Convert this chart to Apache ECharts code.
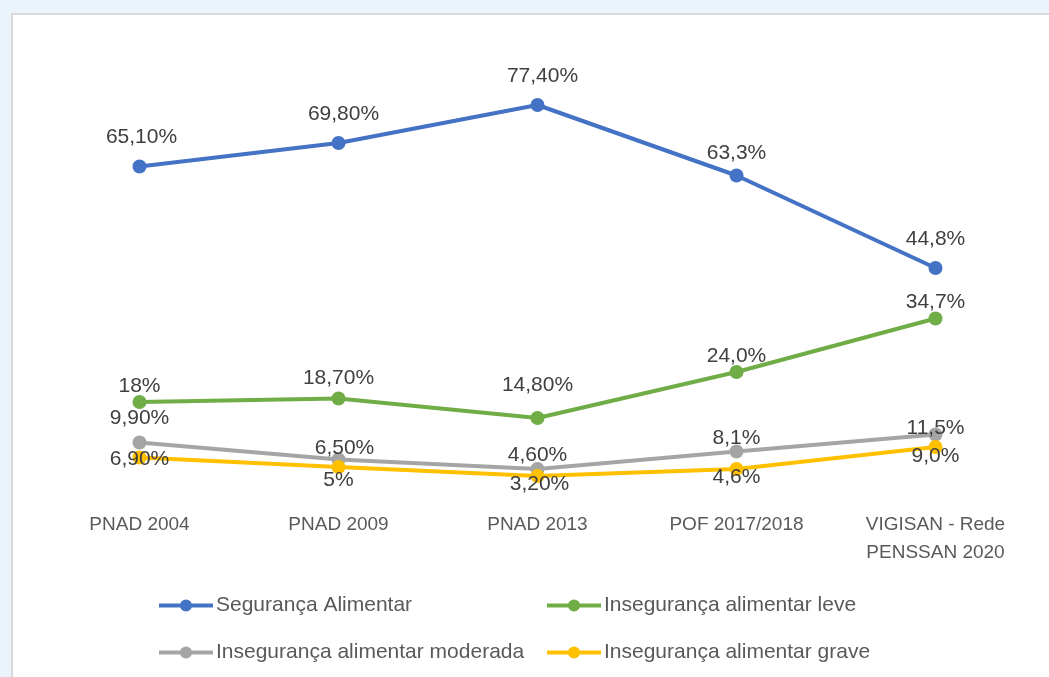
<!DOCTYPE html>
<html>
<head>
<meta charset="utf-8">
<script src="https://cdn.jsdelivr.net/npm/echarts@6/dist/echarts.min.js"></script>
<style>
  html, body { margin: 0; padding: 0; width: 1049px; height: 677px; overflow: hidden; background: #eaf4fb; }
  #panel { position: absolute; left: 11px; top: 13px; right: -4px; bottom: -4px; background: #fff; border-top: 2px solid #d9d9d9; border-left: 2px solid #d9d9d9; }
  #main { position: absolute; left: 0; top: 0; width: 1049px; height: 677px; }
</style>
</head>
<body>
<div id="panel"></div>
<div id="main"></div>
<script>
var categories = ['PNAD 2004', 'PNAD 2009', 'PNAD 2013', 'POF 2017/2018', 'VIGISAN - Rede\nPENSSAN 2020'];
var seriesNames = ['Segurança Alimentar', 'Insegurança alimentar leve', 'Insegurança alimentar moderada', 'Insegurança alimentar grave'];

var seguranca = [65.1, 69.8, 77.4, 63.3, 44.8];
var leve = [18, 18.7, 14.8, 24.0, 34.7];
var moderada = [9.9, 6.5, 4.6, 8.1, 11.5];
var grave = [6.9, 5, 3.2, 4.6, 9.0];

var segurancaText = ['65,10%', '69,80%', '77,40%', '63,3%', '44,8%'];
var leveText = ['18%', '18,70%', '14,80%', '24,0%', '34,7%'];
var moderadaText = ['9,90%', '6,50%', '4,60%', '8,1%', '11,5%'];
var graveText = ['6,90%', '5%', '3,20%', '4,6%', '9,0%'];

// deslocamento dos rótulos em relação ao ponto
var offSeg = [[2, -29], [5, -29], [5, -29], [0, -22], [0, -29]];
var offLeve = [[0, -16], [0, -20], [0, -33], [0, -16], [0, -16]];
var offMod = [[0, -24], [6, -11], [0, -14], [0, -13], [0, -6]];
var offGrave = [[0, 2], [0, 13], [2, 8], [0, 8], [0, 9]];

var colors = ['#4472c4', '#70ad47', '#a5a5a5', '#ffc000'];
var font = 'Liberation Sans, Arial, sans-serif';

function makeSeries(i, values, texts, offs) {
    return {
        name: seriesNames[i],
        type: 'line',
        data: values.map(function (v, k) {
            return {
                value: v,
                label: { offset: offs[k], formatter: texts[k] }
            };
        }),
        symbol: 'circle',
        symbolSize: 14,
        lineStyle: { width: 4, color: colors[i] },
        itemStyle: { color: colors[i] },
        label: {
            show: true,
            position: 'inside',
            align: 'center',
            verticalAlign: 'middle',
            color: '#404040',
            fontSize: 21,
            fontFamily: font
        },
        emphasis: { disabled: true },
        animation: false
    };
}

// uma legenda por item, em duas colunas
var legendPos = [[157, 595], [545, 595], [157, 642], [545, 642]];
var legends = seriesNames.map(function (n, i) {
    return {
        data: [n],
        left: legendPos[i][0],
        top: legendPos[i][1],
        padding: 0,
        itemWidth: 54,
        itemHeight: 15,
        itemGap: 0,
        lineStyle: { width: 4 },
        textStyle: { color: '#595959', fontSize: 21, fontFamily: font, padding: [0, 0, 0, -2] }
    };
});

var chart = echarts.init(document.getElementById('main'));
chart.setOption({
    backgroundColor: 'transparent',
    grid: { left: 40, right: 14, top: 92, bottom: 185 },
    xAxis: {
        type: 'category',
        data: categories,
        boundaryGap: true,
        axisLine: { show: false },
        axisTick: { show: false },
        axisLabel: { color: '#595959', fontSize: 19, fontFamily: font, margin: 19, lineHeight: 28, interval: 0 }
    },
    yAxis: {
        type: 'value',
        min: 0,
        max: 80,
        show: false,
        splitLine: { show: false }
    },
    legend: legends,
    series: [
        makeSeries(0, seguranca, segurancaText, offSeg),
        makeSeries(1, leve, leveText, offLeve),
        makeSeries(2, moderada, moderadaText, offMod),
        makeSeries(3, grave, graveText, offGrave)
    ]
});
</script>
</body>
</html>
